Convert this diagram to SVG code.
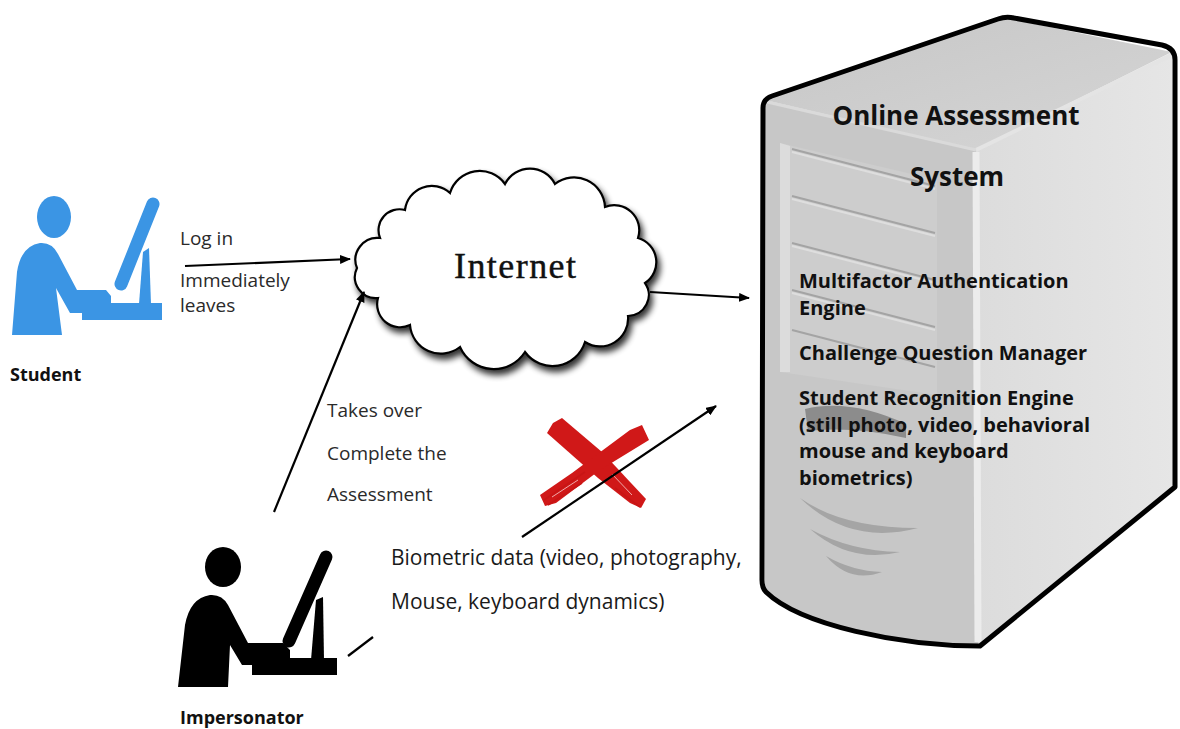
<svg xmlns="http://www.w3.org/2000/svg" width="1180" height="729" viewBox="0 0 1180 729">
  <style>
    .lbl { font-family: "Open Sans", "Liberation Sans", sans-serif; font-size: 19px; fill: #2a2a2a; }
    .lblBig { font-family: "Open Sans", "Liberation Sans", sans-serif; font-size: 21px; fill: #1a1a1a; }
    .who { font-family: "Open Sans", "Liberation Sans", sans-serif; font-size: 18px; font-weight: bold; fill: #111; }
    .srv { font-family: "Open Sans", "Liberation Sans", sans-serif; font-size: 20px; font-weight: bold; fill: #111; }
    .srvT { font-family: "Open Sans", "Liberation Sans", sans-serif; font-size: 26px; font-weight: bold; fill: #111; text-anchor: middle; }
    .conn { stroke: #000; stroke-width: 2.2; fill: none; }
  </style>
  <defs>
    <marker id="arr" markerUnits="userSpaceOnUse" markerWidth="11" markerHeight="9" refX="10" refY="4.5" orient="auto" viewBox="0 0 11 9">
      <path d="M0,0 L11,4.5 L0,9 Z" fill="#000"/>
    </marker>
    <filter id="cloudShadow" x="-10%" y="-10%" width="125%" height="130%">
      <feGaussianBlur in="SourceAlpha" stdDeviation="3"/>
      <feOffset dx="3" dy="5" result="off"/>
      <feComponentTransfer><feFuncA type="linear" slope="0.8"/></feComponentTransfer>
      <feMerge><feMergeNode/><feMergeNode in="SourceGraphic"/></feMerge>
    </filter>
    <linearGradient id="topFace" x1="0" y1="0" x2="1" y2="1">
      <stop offset="0" stop-color="#c6c6c6"/>
      <stop offset="1" stop-color="#d6d6d6"/>
    </linearGradient>
    <linearGradient id="sideFace" x1="0" y1="0" x2="1" y2="0">
      <stop offset="0" stop-color="#dcdcdc"/>
      <stop offset="1" stop-color="#e6e6e6"/>
    </linearGradient>
  </defs>

  <rect width="1180" height="729" fill="#fff"/>

  <!-- server tower -->
  <g id="server">
    <polygon points="765,100 1005,18 1172,52 976,150" fill="url(#topFace)"/>
    <path d="M765,100 L976,150 L978,646 C900,646 800,625 765,590 Z" fill="#c7c7c7"/>
    <polygon points="976,150 1172,52 1175,487 978,646" fill="url(#sideFace)"/>
    <!-- drive bay -->
    <polygon points="780,143 937,180 937,395 780,372" fill="#cdcdcd"/>
    <polygon points="780,143 790,146 790,372 780,372" fill="#dcdcdc"/>
    <g stroke-width="2">
      <line x1="792" y1="149" x2="935" y2="186" stroke="#a4a4a4"/>
      <line x1="792" y1="196" x2="935" y2="233" stroke="#a4a4a4"/>
      <line x1="792" y1="243" x2="935" y2="280" stroke="#a4a4a4"/>
      <line x1="792" y1="290" x2="935" y2="327" stroke="#a4a4a4"/>
      <line x1="792" y1="330" x2="935" y2="367" stroke="#a4a4a4"/>
      <line x1="792" y1="152" x2="935" y2="189" stroke="#dedede"/>
      <line x1="792" y1="199" x2="935" y2="236" stroke="#dedede"/>
      <line x1="792" y1="246" x2="935" y2="283" stroke="#dedede"/>
      <line x1="792" y1="293" x2="935" y2="330" stroke="#dedede"/>
    </g>
    <path d="M805,409 Q850,398 906,424 L906,438 Q852,426 808,431 Z" fill="#8c8c8c"/>
    <path d="M800,498 Q842,528 918,528 Q850,546 800,498 Z" fill="#a5a5a5"/>
    <path d="M810,529 Q850,551 900,552 Q850,564 810,529 Z" fill="#a5a5a5"/>
    <path d="M826,556 Q852,571 882,572 Q850,584 826,556 Z" fill="#a5a5a5"/>
    <!-- edge highlights -->
    <line x1="976" y1="152" x2="978" y2="642" stroke="#ececec" stroke-width="7"/>
    <line x1="976" y1="150" x2="1172" y2="55" stroke="#e4e4e4" stroke-width="4"/>
    <line x1="767" y1="102" x2="976" y2="150" stroke="#dadada" stroke-width="3"/>
    <!-- outline -->
    <path d="M763,108 Q763,99 772,96 L998,19 Q1006,16 1014,18 L1162,45 Q1175,48 1175,60 L1175,487 L980,646 C900,646 800,625 766,592 Q762,588 762,580 Z" fill="none" stroke="#000" stroke-width="5" stroke-linejoin="round"/>
    <text class="srvT" x="956" y="125">Online Assessment</text>
    <text class="srvT" x="957" y="186">System</text>
    <text class="srv" x="799" y="288">Multifactor Authentication</text>
    <text class="srv" x="799" y="315">Engine</text>
    <text class="srv" x="799" y="360">Challenge Question Manager</text>
    <text class="srv" x="799" y="405">Student Recognition Engine</text>
    <text class="srv" x="799" y="432">(still photo, video, behavioral</text>
    <text class="srv" x="799" y="458">mouse and keyboard</text>
    <text class="srv" x="799" y="485">biometrics)</text>
  </g>

  <!-- internet cloud -->
  <g id="internet">
    <path filter="url(#cloudShadow)" fill="#fff" stroke="#000" stroke-width="2.2" d="M357,268 A22 22 0 0 1 380,238 A21 21 0 0 1 405,210 A27 27 0 0 1 450,193 A31 31 0 0 1 505,184 A28 28 0 0 1 555,184 A31 31 0 0 1 605,207 A25 25 0 0 1 638,238 A25 25 0 0 1 645,283 A21 21 0 0 1 628,316 A28 28 0 0 1 585,342 A34 34 0 0 1 525,352 A37 37 0 0 1 460,347 A31 31 0 0 1 410,325 A23 23 0 0 1 378,298 A21 21 0 0 1 357,268 Z"/>
    <text x="515" y="278" text-anchor="middle" font-family="Liberation Serif, serif" font-size="36" fill="#111" stroke="#111" stroke-width="0.4" textLength="122">Internet</text>
  </g>

  <!-- student -->
  <g id="student" fill="#3b95e4">
    <ellipse cx="54" cy="217" rx="17" ry="21"/>
    <path d="M12,335 L17,272 Q21,246 40,243 Q52,242 58,254 L77,290 L106,290 L111,296 L111,303 L162,303 L162,320 L82,320 L82,313 L70,313 L56,288 L62,335 Z"/>
    <line x1="153" y1="204" x2="121" y2="284" stroke="#3b95e4" stroke-width="13" stroke-linecap="round"/>
    <polygon points="143,252 149,248 151,304 139,304"/>
    <text class="who" x="10" y="381">Student</text>
  </g>

  <!-- impersonator -->
  <g id="impersonator" fill="#000">
    <ellipse cx="223" cy="567" rx="18" ry="20"/>
    <path d="M178,687 L185,625 Q190,598 210,595 Q222,594 228,605 L248,643 L283,643 L290,650 L290,658 L337,658 L337,675 L252,675 L252,665 L242,665 L230,645 L228,687 Z"/>
    <line x1="326" y1="557" x2="289" y2="641" stroke="#000" stroke-width="13" stroke-linecap="round"/>
    <polygon points="316,600 323,597 324,660 311,660"/>
    <text class="who" x="180" y="724">Impersonator</text>
  </g>

  <!-- red cross, brush strokes -->
  <g id="cross" fill="#d01818">
    <polygon points="547,433 553,423 562,418 602,452 646,499 641,508 630,503 598,478"/>
    <polygon points="630,430 642,425 649,440 600,470 556,503 545,506 540,495 572,473"/>
    <g stroke="#c81515" stroke-width="1.6" fill="none">
      <line x1="544" y1="500" x2="585" y2="472"/>
      <line x1="548" y1="505" x2="582" y2="483"/>
      <line x1="615" y1="488" x2="640" y2="507"/>
    </g>
    <g stroke="#fff" stroke-width="0.9" fill="none" opacity="0.7">
      <line x1="552" y1="497" x2="578" y2="480"/>
      <line x1="612" y1="474" x2="632" y2="495"/>
    </g>
  </g>

  <!-- connectors -->
  <g id="connectors">
    <line class="conn" x1="185" y1="266" x2="350" y2="259" marker-end="url(#arr)"/>
    <line class="conn" x1="274" y1="512" x2="364" y2="292" marker-end="url(#arr)"/>
    <line class="conn" x1="650" y1="292" x2="749" y2="298" marker-end="url(#arr)"/>
    <line class="conn" x1="522" y1="537" x2="716" y2="406" marker-end="url(#arr)"/>
    <line class="conn" x1="348" y1="656" x2="373" y2="637"/>
  </g>

  <!-- connector labels -->
  <g id="labels">
    <text class="lbl" x="180" y="245">Log in</text>
    <text class="lbl" x="180" y="287">Immediately</text>
    <text class="lbl" x="180" y="312">leaves</text>
    <text class="lbl" x="327" y="417">Takes over</text>
    <text class="lbl" x="327" y="460">Complete the</text>
    <text class="lbl" x="327" y="501">Assessment</text>
    <text class="lblBig" x="391" y="565">Biometric data (video, photography,</text>
    <text class="lblBig" x="391" y="609">Mouse, keyboard dynamics)</text>
  </g>
</svg>
